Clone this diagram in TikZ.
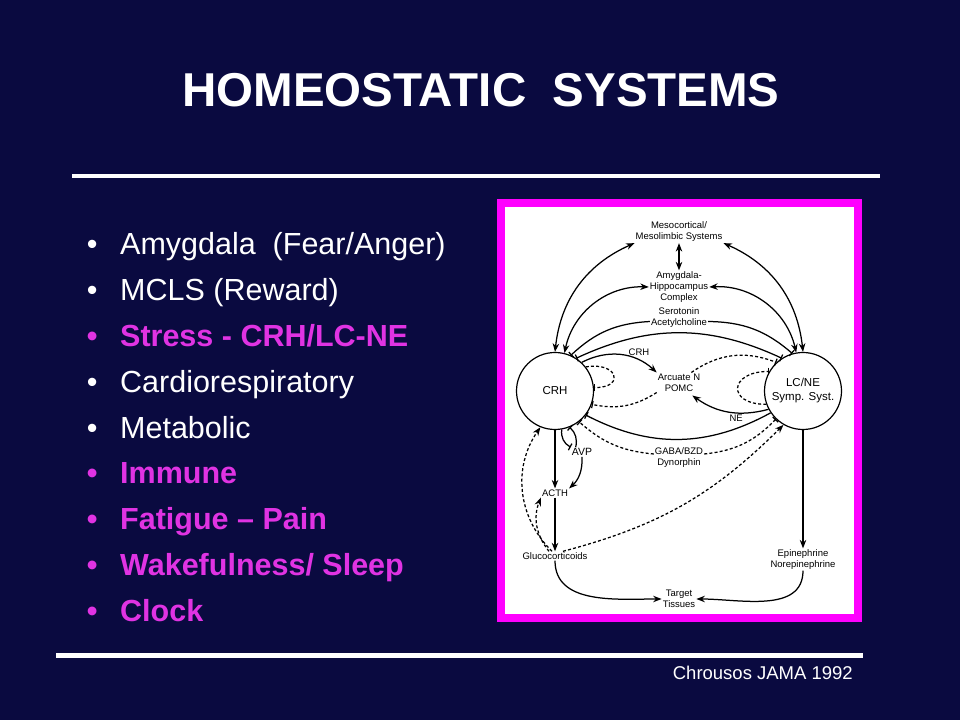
\documentclass[tikz,border=0pt]{standalone}
\usepackage{fontspec}
\setmainfont{Liberation Sans}
\usepackage{tikz}
\usetikzlibrary{arrows.meta,automata,positioning}

\definecolor{navy}{HTML}{0A0A40}
\definecolor{hotpink}{HTML}{E033E3}
\definecolor{framepink}{HTML}{FF00FF}

\newcommand{\itemdot}{\makebox[33.3pt][l]{\textbullet}}

\begin{document}
\begin{tikzpicture}[x=1pt,y=1pt,on grid,>={Stealth[length=8.5pt,width=6.5pt]}]
  \tikzstyle{every state}=[fill=white,draw=black,line width=1.2pt,minimum size=77pt,inner sep=0pt,font=\fontsize{11.5}{14}\selectfont,align=center]
  \tikzstyle{plain}=[anchor=base west,inner sep=0pt,text=white,font=\fontsize{30.5}{32}\selectfont]
  \tikzstyle{hot}=[plain,text=hotpink,font=\fontsize{30.5}{32}\bfseries\selectfont]
  \tikzstyle{txt}=[inner sep=1pt,align=center,font=\fontsize{9.5}{11}\selectfont]
  \tikzstyle{wire}=[line width=1.25pt]
  \tikzstyle{dsh}=[dash pattern=on 3pt off 2.2pt]
  \tikzstyle{inh}=[-{Bar[width=7.5pt]}]
  \tikzstyle{inhinh}=[{Bar[width=7.5pt]}-{Bar[width=7.5pt]}]

  % slide
  \fill[navy] (0,0) rectangle (960,720);
  \node[anchor=base,text=white,font=\fontsize{47.5}{50}\bfseries\selectfont] (title) at (481,613) {HOMEOSTATIC\ \ SYSTEMS};
  \draw[white,line width=4.5pt] (72,544) -- (880,544);
  \draw[white,line width=4.5pt] (56,64.5) -- (863,64.5);
  \node[anchor=base east,inner sep=0pt,text=white,font=\fontsize{18.5}{20}\selectfont] (cite) at (853,40.5) {Chrousos JAMA 1992};

  % list
  \node[plain] (amy) at (86.7,465) {\itemdot Amygdala\ \ (Fear/Anger)};
  \node (mcls) [below=45.8pt of amy.base west,plain] {\itemdot MCLS (Reward)};
  \node (stress) [below=45.8pt of mcls.base west,hot] {\itemdot Stress - CRH/LC-NE};
  \node (cardio) [below=45.8pt of stress.base west,plain] {\itemdot Cardiorespiratory};
  \node (metab) [below=45.8pt of cardio.base west,plain] {\itemdot Metabolic};
  \node (immune) [below=45.8pt of metab.base west,hot] {\itemdot Immune};
  \node (fatigue) [below=45.8pt of immune.base west,hot] {\itemdot Fatigue -- Pain};
  \node (wake) [below=45.8pt of fatigue.base west,hot] {\itemdot Wakefulness/ Sleep};
  \node (clock) [below=45.8pt of wake.base west,hot] {\itemdot Clock};

  % figure
  \draw[framepink,line width=8pt,fill=white] (501,517) rectangle (858,102);

  \node[state] (crh) at (555,329) {CRH};
  \node[state] (lc) [right=248pt of crh] {LC/NE\\Symp. Syst.};
  \node[txt] (meso) at (679,488) {Mesocortical/\\Mesolimbic Systems};
  \node[txt] (amyg) [below=55pt of meso] {Amygdala-\\Hippocampus\\Complex};
  \node[txt] (sero) [below=30.5pt of amyg] {Serotonin\\Acetylcholine};
  \node[txt] (arc) [below=65pt of sero] {Arcuate N\\POMC};
  \node[txt] (gaba) [below=75.5pt of arc] {GABA/BZD\\Dynorphin};
  \node[txt] (target) [below=141pt of gaba] {Target\\Tissues};
  \node[txt] (acth) [below=102pt of crh] {ACTH};
  \node[txt] (gluco) [below=63pt of acth] {Glucocorticoids};
  \node[txt,font=\fontsize{10.5}{12}\selectfont] (avp) [below right=61pt and 27pt of crh] {AVP};
  \node[txt] (epi) [below=168.5pt of lc] {Epinephrine\\Norepinephrine};

  \path[wire]
    (crh.90) edge[<->,bend left=30] (meso.south west)
    (meso.south east) edge[<->,bend left=30] (lc.90)
    (meso) edge[<->] (amyg)
    (crh.76) edge[<->,bend left=40] (amyg.west)
    (amyg.east) edge[<->,bend left=40] (lc.100)
    ([yshift=-4pt]sero.west) edge[inh,bend right=20] (crh.66)
    ([yshift=-4pt]sero.east) edge[inh,bend left=20] (lc.106)
    (crh.57) edge[inhinh,bend left=25] (lc.123)
    (crh.47) edge[->,bend left=35] node[txt,above,pos=0.62,xshift=9pt] (crhlbl) {CRH} (arc.north west)
    (lc.208) edge[->,bend left=25] node[txt,below,pos=0.4] (nelbl) {NE} ([xshift=-9pt,yshift=-3pt]arc.south east)
    (lc.214) edge[inh,bend left=28] (crh.-38)
    (crh) edge[->] (acth)
    (acth) edge[->] (gluco)
    (avp.south) edge[->,bend left=25] (acth.north east)
    (crh.-80) edge[inh,bend right=35] (avp.north west)
    ([xshift=5pt]avp.north west) edge[inh,bend right=30] (crh.-68)
    (gluco.south) edge[->,out=-90,in=180] (target.west)
    (epi.south) edge[->,out=-90,in=0] (target.east)
    (lc) edge[->] (epi);
  \path[wire,dsh]
    (crh.38) edge[inh,out=10,in=0,distance=32pt] (crh.5)
    (arc.south west) edge[inh,bend left=22] (crh.-20)
    ([xshift=-10pt]arc.north east) edge[inh,bend left=28] (lc.133)
    (lc.200) edge[inh,out=180,in=180,distance=40pt] (lc.150)
    ([yshift=4pt]gaba.west) edge[inh,bend left=18] (crh.-52)
    ([yshift=4pt]gaba.east) edge[inh,bend right=20] (lc.226)
    ([xshift=-3pt]gluco.north) edge[->,bend left=40] (crh.-112)
    ([xshift=-6pt]gluco.north) edge[->,bend left=30] (acth.south west)
    ([xshift=8pt]gluco.north) edge[->,bend right=15] (lc.240);
\end{tikzpicture}
\end{document}
